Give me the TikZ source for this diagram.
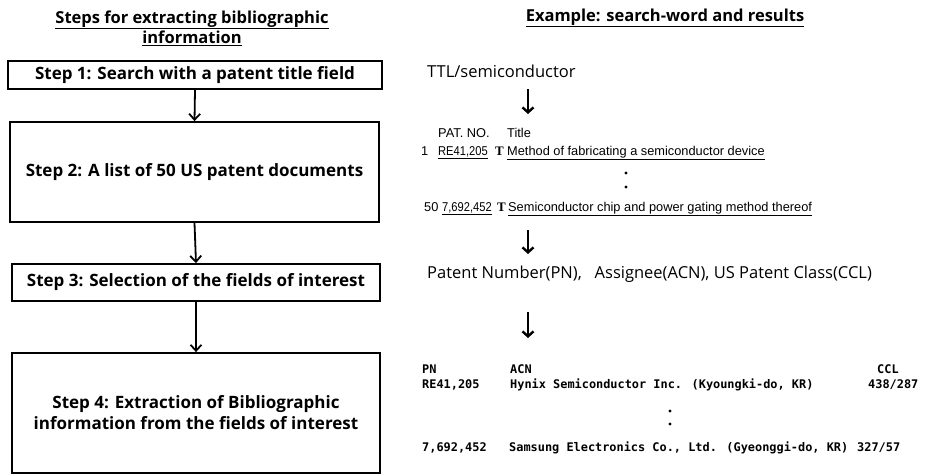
\documentclass[tikz,border=0pt]{standalone}
\usepackage{fontspec}
\setmainfont{Open Sans}
\newfontfamily\listfont{Liberation Sans}
\newfontfamily\tfont{Liberation Serif}
\newfontfamily\codefont{DejaVu Sans Mono}
\usetikzlibrary{arrows.meta}
\newcommand\narrownum[1]{\scalebox{0.87}[1]{\underline{#1}}}
\begin{document}
\begin{tikzpicture}[x=1pt,y=-1pt,
  stepbox/.style={draw,line width=1.8pt,align=center,inner sep=0pt,
    font=\bfseries\fontsize{17}{21}\selectfont},
  flow/.style={line width=1.8pt,-{Straight Barb[length=6pt,width=11pt,line width=1.8pt]}},
  down/.style={line width=2.4pt,-{Straight Barb[length=5pt,width=11pt,line width=2.4pt]}},
  heading/.style={align=center,font=\bfseries\fontsize{16.5}{20}\selectfont},
  query/.style={anchor=base west,inner sep=0pt,font=\fontsize{16.5}{18}\selectfont},
  row/.style={anchor=base west,inner sep=0pt,font=\listfont\fontsize{12.8}{14}\selectfont},
  bigt/.style={row,font=\tfont\bfseries\fontsize{13}{14}\selectfont},
  code/.style={anchor=base west,inner sep=0pt,font=\codefont\bfseries\fontsize{11.9}{13}\selectfont},
  dot/.style={fill,circle,inner sep=0pt,minimum size=3.4pt}]
\useasboundingbox (0,0) rectangle (943,475);

% left column: the four steps
\node[heading] (lhead) at (192,28) {\underline{Steps for extracting bibliographic}\\\underline{information}};
\node[stepbox,minimum width=374pt,minimum height=28pt] (s1) at (195,75) {Step 1: Search with a patent title field};
\node[stepbox,minimum width=369pt,minimum height=100pt] (s2) at (194.5,172) {Step 2: A list of 50 US patent documents};
\node[stepbox,minimum width=368pt,minimum height=37pt] (s3) at (196,282.5) {Step 3: Selection of the fields of interest};
\node[stepbox,minimum width=368pt,minimum height=120pt] (s4) at (196,413) {Step 4: Extraction of Bibliographic\\information from the fields of interest};
\draw[flow] (s1.south) -- (s2.north);
\draw[flow] (s2.south) -- (s3.north);
\draw[flow] (s3.south) -- (s4.north);

% right column: example search and results
\node[heading] (rhead) at (665,18) {\underline{Example: search-word and results}};
\node[query] (q) at (427,77) {TTL/semiconductor};
\coordinate (a1s) at (528,89);
\coordinate (a1e) at (528,114);
\draw[down] (a1s) -- (a1e);

\node[row] (hpat) at (438,137) {PAT. NO.};
\node[row] (htit) at (507,137) {Title};
\node[row] (n1) at (421,155) {1};
\node[row] (p1) at (438,155) {\narrownum{RE41,205}};
\node[bigt] (t1) at (495,155) {T};
\node[row] (m1) at (507,155) {\underline{Method of fabricating a semiconductor device}};
\node[dot] (d1) at (626,173) {};
\node[dot] (d2) at (626,187) {};
\node[row] (n50) at (424,211) {50};
\node[row] (p50) at (442,211) {\narrownum{7,692,452}};
\node[bigt] (t50) at (497,211) {T};
\node[row] (m50) at (508,211) {\underline{Semiconductor chip and power gating method thereof}};
\coordinate (a2s) at (528,230);
\coordinate (a2e) at (528,254);
\draw[down] (a2s) -- (a2e);

\node[query] (fields) at (427,278) {Patent Number(PN),\ \ \ Assignee(ACN), US Patent Class(CCL)};
\coordinate (a3s) at (528,312);
\coordinate (a3e) at (528,338);
\draw[down] (a3s) -- (a3e);

\node[code] (cpn) at (422,373) {PN};
\node[code] (cacn) at (510,373) {ACN};
\node[code] (cccl) at (877,373) {CCL};
\node[code] (r1a) at (422,388) {RE41,205};
\node[code] (r1b) at (510,388) {Hynix Semiconductor Inc. (Kyoungki-do, KR)};
\node[code] (r1c) at (868,388) {438/287};
\node[dot] (d3) at (670,411) {};
\node[dot] (d4) at (670,424) {};
\node[code] (r2a) at (422,451) {7,692,452};
\node[code] (r2b) at (509,451) {Samsung Electronics Co., Ltd. (Gyeonggi-do, KR)};
\node[code] (r2c) at (857,451) {327/57};
\end{tikzpicture}
\end{document}
